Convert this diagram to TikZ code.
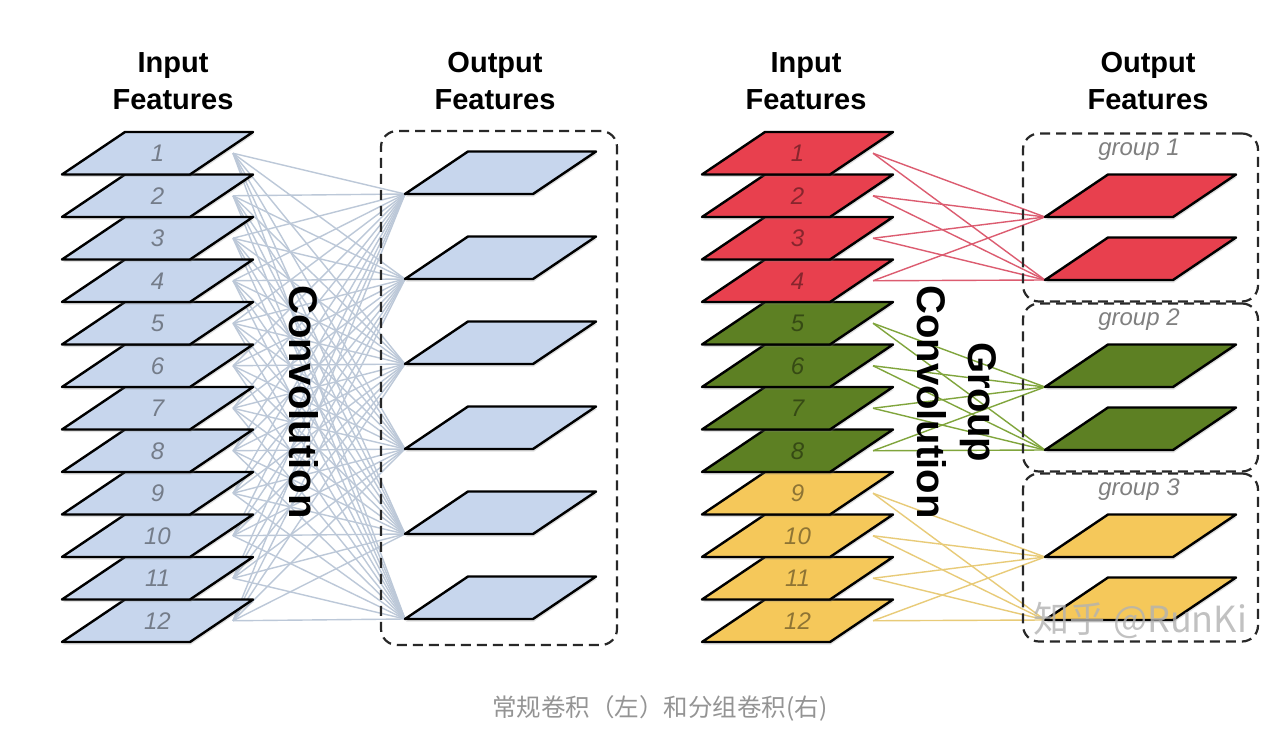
\documentclass[tikz,border=0pt]{standalone}
\usepackage{fontspec}
\setmainfont{Liberation Sans}
\newfontfamily\cjk{Noto Sans CJK SC}
\usetikzlibrary{shadows}
\definecolor{fblue}{RGB}{199,214,237}
\definecolor{fred}{RGB}{232,64,78}
\definecolor{fgreen}{RGB}{93,128,35}
\definecolor{fyellow}{RGB}{245,200,90}
\definecolor{lblue}{RGB}{188,200,216}
\definecolor{lred}{RGB}{220,92,112}
\definecolor{lgreen}{RGB}{128,165,60}
\definecolor{lyellow}{RGB}{232,203,120}
\definecolor{boxgray}{RGB}{40,40,40}
\pgfdeclarelayer{bg}
\pgfsetlayers{bg,main}
\tikzset{
  fmapshape/.style={draw=black, line width=2.4pt, line join=round,
    drop shadow={opacity=0.25, shadow xshift=1pt, shadow yshift=-2.5pt}},
  numlabel/.style={font=\fontsize{24}{24}\selectfont\itshape, inner sep=0pt},
  titletext/.style={font=\fontsize{29}{37}\selectfont\bfseries, align=center, inner sep=0pt},
  convtext/.style={font=\fontsize{40}{51}\selectfont\bfseries, align=center, rotate=-90, inner sep=0pt},
  groupbox/.style={draw=boxgray, line width=2.2pt, dash pattern=on 10pt off 6pt, rounded corners=16pt, inner sep=0pt},
  grouplabel/.style={font=\fontsize{24}{24}\selectfont\itshape, text=black!50, inner sep=0pt},
  conn/.style={line width=1.4pt},
}
% #1 name, #2 x of bottom-left corner, #3 y of bottom edge, #4 colour, #5 label
\newcommand\fmap[5]{%
  \filldraw[fmapshape, fill=#4] ({#2},{#3}) -- ++(128,0) -- ++(63,-42.5) -- ++(-128,0) -- cycle;
  \node[numlabel, text=#4!58!black] (#1) at ({#2+95.5},{#3-21.25}) {#5};
  \coordinate (#1-r) at ({#2+171},{#3-21.25});
  \coordinate (#1-c) at ({#2},{#3});
}
\begin{document}
\begin{tikzpicture}[x=1pt,y=-1pt]
\useasboundingbox (0,0) rectangle (1280,749);
\begin{pgfonlayer}{bg}
  \fill[white] (0,0) rectangle (1280,749);
\end{pgfonlayer}

% titles
\node[titletext] (t1) at (173,81) {Input\\Features};
\node[titletext] (t2) at (495,81) {Output\\Features};
\node[titletext] (t3) at (806,81) {Input\\Features};
\node[titletext] (t4) at (1148,81) {Output\\Features};

% ---------- regular convolution ----------
\node[groupbox, minimum width=236pt, minimum height=514pt] (box0) at (499,388) {};
\foreach \i in {12,11,...,1} {\fmap{a\i}{62}{174.5+42.5*(\i-1)}{fblue}{\i}}
\foreach \j in {1,...,6} {\fmap{b\j}{405}{194+85*(\j-1)}{fblue}{}}
\begin{pgfonlayer}{bg}
  \foreach \i in {1,...,12} {\foreach \j in {1,...,6} {\draw[conn, lblue] (a\i-r) -- (b\j-c);}}
\end{pgfonlayer}
\node[convtext] (conv) at (304,402) {Convolution};

% ---------- group convolution ----------
\node[groupbox, minimum width=235pt, minimum height=168pt] (g1) at (1140.5,217.5) {};
\node[groupbox, minimum width=235pt, minimum height=168pt] (g2) at (1140.5,387.5) {};
\node[groupbox, minimum width=235pt, minimum height=168pt] (g3) at (1140.5,557.5) {};
\node[grouplabel] (gl1) at (1139,150) {group 1};
\node[grouplabel] (gl2) at (1139,320) {group 2};
\node[grouplabel] (gl3) at (1139,490) {group 3};

\foreach \i/\c in {12/fyellow,11/fyellow,10/fyellow,9/fyellow,8/fgreen,7/fgreen,6/fgreen,5/fgreen,4/fred,3/fred,2/fred,1/fred}
  {\fmap{r\i}{702}{174.5+42.5*(\i-1)}{\c}{\i}}
\foreach \j/\y/\c in {1/217/fred,2/280/fred,3/387/fgreen,4/450/fgreen,5/557/fyellow,6/620/fyellow}
  {\fmap{s\j}{1045}{\y}{\c}{}}
\begin{pgfonlayer}{bg}
  \foreach \i in {1,...,4} {\foreach \j in {1,2} {\draw[conn, lred] (r\i-r) -- (s\j-c);}}
  \foreach \i in {5,...,8} {\foreach \j in {3,4} {\draw[conn, lgreen] (r\i-r) -- (s\j-c);}}
  \foreach \i in {9,...,12} {\foreach \j in {5,6} {\draw[conn, lyellow] (r\i-r) -- (s\j-c);}}
\end{pgfonlayer}
\node[convtext] (gconv) at (957,402) {Group\\Convolution};

% watermark and caption
\node[font=\cjk\fontsize{36}{36}\selectfont, text=white!70!black, opacity=0.8, inner sep=0pt] (wm) at (1140,620) {知乎 @RunKi};
\node[font=\cjk\fontsize{24.5}{24.5}\selectfont, text=black!42, inner sep=0pt] (cap) at (660,708) {常规卷积（左）和分组卷积(右)};
\end{tikzpicture}
\end{document}
